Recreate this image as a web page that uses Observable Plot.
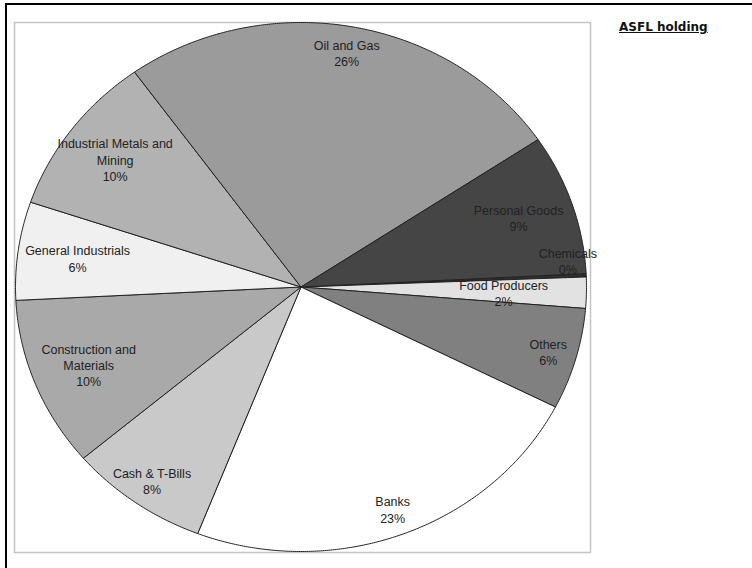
<!DOCTYPE html>
<html><head><meta charset="utf-8">
<script src="https://cdn.jsdelivr.net/npm/d3@7"></script>
<script src="https://cdn.jsdelivr.net/npm/@observablehq/plot@0.6"></script>
<style>
body{margin:0;background:#fff;}
#wrap{position:relative;width:752px;height:568px;overflow:hidden;background:#fff;}
#chart svg{display:block;}
#title{position:absolute;left:619px;top:20px;font:bold 12px "DejaVu Sans",Verdana,sans-serif;text-decoration:underline;color:#111;}
#border{position:absolute;left:5px;top:3px;width:900px;height:900px;border-top:2px solid #000;border-left:2px solid #000;}
</style></head><body>
<div id="wrap"><div id="chart"></div><div id="border"></div><div id="title">ASFL holding</div></div>
<script>
// Data (clockwise order, starting just above 3 o'clock)
const categories = ["Chemicals","Food Producers","Others","Banks","Cash & T-Bills","Construction and Materials","General Industrials","Industrial Metals and Mining","Oil and Gas","Personal Goods"];
const values = [0.2, 1.9, 6.2, 23.4, 7.9, 10.4, 6.0, 9.9, 25.5, 8.6];

// Styling / layout (kept apart from the data)
const fills = ["#303030","#e2e2e2","#808080","#ffffff","#c9c9c9","#a9a9a9","#f0f0f0","#b2b2b2","#9b9b9b","#454545"];
const startDeg = 87.1;
const labelRadius = [0.94, 0.71, 0.9, 0.9, 0.9, 0.8, 0.79, 0.81, 0.9, 0.806];
const labelAngleDeg = [83.9, 91.7, null, null, null, null, null, null, null, 71];

const rad = Math.PI / 180;
const arcs = d3.pie().sort(null).value(d => d)
  .startAngle(startDeg * rad).endAngle(startDeg * rad + 2 * Math.PI)(values);

const slicePts = [];
arcs.forEach((a, i) => {
  const cat = categories[i];
  slicePts.push({cat, x: 0, y: 0});
  const n = Math.max(2, Math.ceil((a.endAngle - a.startAngle) / (0.4 * rad)));
  for (let k = 0; k <= n; k++) {
    const t = a.startAngle + (a.endAngle - a.startAngle) * k / n;
    slicePts.push({cat, x: Math.sin(t), y: Math.cos(t)});
  }
  slicePts.push({cat, x: 0, y: 0});
});

function wrap(s, max) {
  const words = s.split(" "); const lines = []; let cur = "";
  for (const w of words) {
    if (cur && (cur + " " + w).length > max) { lines.push(cur); cur = w; }
    else cur = cur ? cur + " " + w : w;
  }
  lines.push(cur); return lines.join("\n");
}

const labels = arcs.map((a, i) => {
  const ang = labelAngleDeg[i] != null ? labelAngleDeg[i] * rad : (a.startAngle + a.endAngle) / 2;
  const r = labelRadius[i];
  return {x: r * Math.sin(ang), y: r * Math.cos(ang),
          text: wrap(categories[i], 21) + "\n" + Math.round(values[i]) + "%"};
});

const chart = Plot.plot({
  width: 752, height: 568,
  marginLeft: 14, marginTop: 22, marginRight: 162, marginBottom: 16,
  x: {domain: [-1, 1], range: [15, 586], axis: null},
  y: {domain: [-1, 1], range: [551, 22], axis: null},
  color: {domain: categories, range: fills},
  style: {background: "transparent", overflow: "visible"},
  marks: [
    Plot.frame({stroke: "#c4c4c4", strokeWidth: 1.5}),
    Plot.line(slicePts, {x: "x", y: "y", z: "cat", fill: "cat", stroke: "#222", strokeWidth: 1, strokeLinejoin: "round"}),
    Plot.text(labels, {x: "x", y: "y", text: "text", fontSize: 12.5, fontFamily: "Liberation Sans, Arial, sans-serif",
      fill: "#222", textAnchor: "middle", lineAnchor: "middle", lineHeight: 1.3})
  ]
});
document.getElementById("chart").appendChild(chart);
</script>
</body></html>
